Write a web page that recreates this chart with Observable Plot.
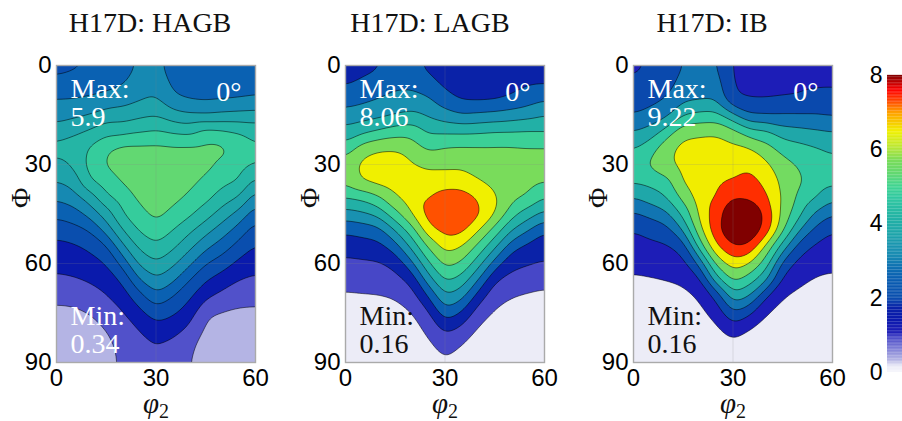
<!DOCTYPE html>
<html><head><meta charset="utf-8">
<script src="https://cdn.jsdelivr.net/npm/d3@7"></script>
<script src="https://cdn.jsdelivr.net/npm/@observablehq/plot@0.6"></script>
<style>
html,body{margin:0;padding:0;background:#fff;}
#chart{position:relative;width:902px;height:421px;overflow:hidden;background:#fff;}
#chart svg{position:absolute;top:0;}
</style></head><body><div id="chart"></div>
<script>
// grid sample positions (degrees)
const phi2 = [0,5,10,15,20,25,30,35,40,45,50,55,60];
const PHI = [0,5,10,15,20,25,30,35,40,45,50,55,60,65,70,75,80,85,90];

// ODF intensity, one array per phi2 column, Phi = 0..90
const hagbColumns = [
  [2.3,2.75,3.1,3.45,3.95,4.4,4.1,3.68,3.2,2.7,2.2,1.85,1.6,1.35,1.0,0.8,0.6,0.5,0.45],
  [2.45,2.8,3.1,3.55,4.15,4.45,4.3,3.9,3.4,2.85,2.35,1.9,1.65,1.4,1.05,0.8,0.62,0.52,0.48],
  [2.6,2.9,3.15,3.7,4.3,4.85,5.0,4.75,3.95,3.3,2.56,2.1,1.8,1.5,1.2,0.9,0.7,0.6,0.55],
  [2.8,2.95,3.25,3.95,4.6,5.3,5.4,5.1,4.7,3.95,3.3,2.45,2.01,1.7,1.4,1.15,0.9,0.75,0.7],
  [2.9,3.05,3.4,3.95,4.6,5.5,5.6,5.4,5.05,4.79,4.23,3.55,2.75,2.1,1.75,1.4,1.2,1.05,1.0],
  [3.2,3.35,3.6,4.1,4.75,5.45,5.8,5.7,5.45,5.15,4.85,4.35,3.8,3.12,2.35,1.85,1.45,1.3,1.25],
  [3.25,3.45,3.75,4.2,4.85,5.45,5.9,5.9,5.75,5.5,5.15,4.7,4.2,3.62,3.0,2.3,1.8,1.42,1.5],
  [2.95,3.0,3.2,3.9,4.7,5.4,5.8,5.75,5.5,5.2,4.79,4.35,3.8,3.25,2.56,2.1,1.65,1.3,1.15],
  [2.85,2.9,3.05,3.75,4.6,5.45,5.65,5.5,5.25,4.9,4.35,3.8,3.25,2.56,2.1,1.75,1.35,1.0,0.92],
  [2.8,2.85,3.0,3.7,5.0,5.5,5.5,5.25,4.95,4.5,3.85,3.25,2.56,2.05,1.55,0.95,0.8,0.7,0.65],
  [2.8,2.8,3.05,3.8,4.9,5.5,5.25,4.95,4.55,3.95,3.4,2.8,2.3,1.7,1.3,0.85,0.7,0.6,0.55],
  [2.8,2.85,3.1,3.85,4.8,5.1,5.0,4.79,4.23,3.5,2.85,2.35,1.85,1.45,1.1,0.8,0.65,0.55,0.5],
  [2.9,2.95,3.15,3.9,4.6,4.85,4.79,4.1,3.4,2.8,2.3,1.95,1.65,1.35,1.05,0.8,0.62,0.52,0.48]
];
const lagbColumns = [
  [2.2,2.4,2.95,3.6,4.4,5.2,6.0,5.85,4.9,3.75,2.65,2.05,1.55,1.2,0.85,0.55,0.38,0.3,0.25],
  [2.3,2.62,3.1,3.75,4.7,6.1,6.7,6.55,5.1,3.95,2.8,2.15,1.6,1.25,0.88,0.6,0.4,0.3,0.25],
  [2.45,2.8,3.32,3.9,5.0,6.4,6.9,6.8,5.6,4.35,3.0,2.25,1.65,1.3,0.9,0.62,0.42,0.32,0.27],
  [2.85,3.1,3.55,4.11,5.3,6.4,7.0,7.0,6.4,5.45,4.11,2.9,1.95,1.5,1.0,0.68,0.45,0.33,0.28],
  [2.75,3.1,3.6,4.3,5.4,6.1,6.55,7.0,7.0,6.45,5.3,4.3,3.1,1.95,1.4,0.92,0.6,0.4,0.32],
  [2.35,2.8,3.4,4.0,4.75,5.55,6.3,6.8,7.25,7.6,7.0,5.8,4.8,3.75,2.53,1.6,1.15,0.8,0.55],
  [2.05,2.3,2.85,3.6,4.75,5.75,6.25,6.95,7.6,8.06,7.55,6.8,5.95,5.05,4.05,3.05,1.95,1.2,0.85],
  [1.95,2.1,2.4,3.32,4.75,5.8,6.3,6.95,7.6,7.95,7.5,6.48,5.6,4.6,3.6,2.45,1.55,0.9,0.65],
  [1.95,2.05,2.35,3.45,4.8,5.8,6.15,6.5,7.25,7.45,6.55,5.45,4.45,3.32,2.15,1.35,0.85,0.55,0.45],
  [2.0,2.1,2.4,3.55,4.9,5.8,6.05,6.3,6.6,6.55,5.35,4.25,2.95,1.78,1.25,0.85,0.6,0.45,0.4],
  [2.1,2.25,2.6,3.7,4.9,5.8,6.05,6.2,5.95,5.2,4.11,2.8,1.95,1.5,0.95,0.7,0.5,0.4,0.35],
  [2.15,2.4,2.9,3.85,4.95,5.75,5.95,6.0,5.6,4.5,3.32,2.3,1.8,1.3,0.85,0.6,0.45,0.38,0.33],
  [2.2,2.4,3.2,4.11,4.9,5.75,5.95,5.8,4.9,3.85,2.53,2.1,1.65,1.15,0.8,0.58,0.43,0.35,0.3]
];
const ibColumns = [
  [1.8,2.05,2.45,2.88,3.78,4.6,5.25,4.85,3.78,2.72,1.97,1.62,1.28,0.95,0.7,0.52,0.4,0.32,0.28],
  [2.05,2.35,2.65,3.1,4.15,5.2,5.7,5.0,4.2,3.1,2.25,1.75,1.35,1.0,0.75,0.55,0.42,0.33,0.29],
  [2.3,2.55,2.88,3.55,5.1,6.2,6.3,5.3,4.69,3.55,2.5,1.85,1.45,1.07,0.8,0.58,0.44,0.35,0.3],
  [2.95,3.15,3.55,4.69,6.2,6.8,6.85,6.6,5.9,4.95,3.78,2.3,1.7,1.2,0.85,0.62,0.47,0.37,0.32],
  [3.0,3.25,3.65,4.95,6.3,6.9,7.15,7.2,7.0,6.7,6.2,5.1,3.1,1.75,1.15,0.85,0.6,0.45,0.38],
  [3.0,3.3,3.7,5.0,6.4,6.85,7.05,7.2,7.4,7.9,8.1,7.3,5.9,4.35,2.2,1.4,0.9,0.6,0.48],
  [1.85,1.9,2.05,3.95,5.9,6.7,7.0,7.45,8.3,9.2,9.15,8.3,7.0,5.85,4.4,2.8,1.55,0.8,0.55],
  [1.7,1.75,1.92,2.9,5.0,6.6,7.2,7.8,8.2,9.1,9.05,8.2,6.5,5.1,3.78,2.15,1.0,0.65,0.5],
  [1.75,1.8,1.9,2.88,4.9,5.95,6.7,7.1,7.6,8.2,8.0,6.2,5.2,3.95,1.97,1.07,0.75,0.55,0.45],
  [1.8,1.85,1.95,2.95,4.2,5.25,5.95,6.3,6.4,6.2,5.7,4.25,2.55,1.75,1.07,0.8,0.6,0.48,0.4],
  [1.85,1.9,1.98,2.95,4.05,5.0,5.5,5.75,5.4,4.9,3.78,2.4,1.7,1.2,0.9,0.7,0.55,0.45,0.38],
  [1.8,1.88,2.1,2.95,3.9,4.75,5.25,5.2,4.75,3.6,2.55,1.8,1.3,1.0,0.8,0.62,0.5,0.42,0.36],
  [1.75,1.85,2.2,2.8,3.78,4.5,4.95,4.95,4.0,2.88,1.97,1.6,1.2,0.95,0.75,0.58,0.47,0.4,0.35]
];

const panelTitles = ["H17D: HAGB", "H17D: LAGB", "H17D: IB"];
const panelMin = [0.34, 0.16, 0.16];
const panelMax = [5.9, 8.06, 9.22];
const panelMinLabels = ["0.34", "0.16", "0.16"];
const panelMaxLabels = ["5.9", "8.06", "9.22"];
const sectionLabel = "0°";
const contourCount = 10;
const ticksPhi2 = [0, 30, 60];
const ticksPHI = [0, 30, 60, 90];
const colorbarTicks = [0, 2, 4, 6, 8];

const colorStopValues = [0,0.16,0.34,0.95,1.07,1.45,1.74,2.0,2.55,2.9,3.1,3.4,3.7,4.1,4.7,5.0,5.34,5.7,6.1,6.48,7.0,7.3,7.6,8.0];
const colorStopColors = ["#f6f6fc","#ececf7","#b4b4e4","#4747c7","#1c1cb6","#0a1aac","#0a22a8","#0a4eae","#0a60b2","#1276b2","#1688b2","#1a94b0","#1ea4aa","#22b0a6","#30c8a0","#40d492","#62d872","#7adc5a","#c0e830","#f0f000","#ffa000","#ff4800","#ff0000","#800000"];

const colorScale = {type: "linear", domain: colorStopValues, range: colorStopColors, clamp: true, interpolate: "rgb"};
const serif = "Liberation Serif, Times New Roman, serif";
const sans = "Liberation Sans, Arial, sans-serif";
const panels = [hagbColumns, lagbColumns, ibColumns];
const panelLeft = [0, 289, 577];
const titleDx = [-6, -15, -21];

const chart = document.getElementById("chart");
const ns = "http://www.w3.org/2000/svg";

panels.forEach((cols, p) => {
  const points = [];
  phi2.forEach((a, i) => PHI.forEach((b, j) => points.push({phi2: a, PHI: b, v: cols[i][j]})));
  const step = (panelMax[p] - panelMin[p]) / contourCount;
  const thresholds = d3.range(contourCount).map(k => panelMin[p] + k * step);
  const svg = Plot.plot({
    width: 289, height: 421,
    marginLeft: 56, marginRight: 34, marginTop: 65, marginBottom: 59,
    x: {domain: [0, 60], axis: null},
    y: {domain: [0, 90], reverse: true, axis: null},
    color: colorScale,
    style: {fontFamily: sans, fontSize: "24px", background: "transparent", overflow: "visible"},
    marks: [
      Plot.contour(points, {
        x: "phi2", y: "PHI", value: "v",
        interpolate: "barycentric", pixelSize: 1, blur: 5,
        thresholds, fill: "value", stroke: "#000", strokeWidth: 0.6, strokeOpacity: 0.85, clip: true
      }),
      Plot.gridX([30], {stroke: "#888", strokeOpacity: 0.2}),
      Plot.gridY([30, 60], {stroke: "#888", strokeOpacity: 0.2}),
      Plot.frame({stroke: "#aaa", strokeWidth: 1.4}),
      Plot.axisX(ticksPhi2, {anchor: "bottom", tickSize: 0, tickPadding: 6, fontSize: 24, label: null}),
      Plot.axisY(ticksPHI, {anchor: "left", tickSize: 0, tickPadding: 5, fontSize: 24, label: null}),
      Plot.text([panelTitles[p]], {frameAnchor: "top", dx: titleDx[p], dy: -53, fontFamily: serif, fontSize: 28, fill: "#111"}),
      Plot.text([`Max:\n${panelMaxLabels[p]}`], {frameAnchor: "top-left", textAnchor: "start", lineAnchor: "top", dx: 14, dy: 13, lineHeight: 1.0, fontFamily: serif, fontSize: 28, fill: "white"}),
      Plot.text([sectionLabel], {frameAnchor: "top-right", textAnchor: "end", lineAnchor: "top", dx: -14, dy: 16, fontFamily: serif, fontSize: 28, fill: "white"}),
      Plot.text([`Min:\n${panelMinLabels[p]}`], {frameAnchor: "bottom-left", textAnchor: "start", lineAnchor: "bottom", dx: 14, dy: -10, lineHeight: 1.0, fontFamily: serif, fontSize: 28, fill: p === 0 ? "white" : "#111"}),
      Plot.text(["Φ"], {frameAnchor: "left", dx: -35, dy: -6, rotate: -90, fontFamily: serif, fontSize: 28, fill: "#111"}),
      Plot.text(["φ2"], {frameAnchor: "bottom", lineAnchor: "bottom", dy: 50, fontFamily: serif, fontSize: 29, fill: "#111", className: "xlabel"})
    ]
  });
  svg.style.left = panelLeft[p] + "px";
  svg.querySelectorAll(".xlabel text").forEach(t => {
    t.textContent = "";
    const a = document.createElementNS(ns, "tspan");
    a.textContent = "φ"; a.setAttribute("font-style", "italic");
    const b = document.createElementNS(ns, "tspan");
    b.textContent = "2"; b.setAttribute("dy", "0.25em"); b.setAttribute("font-size", "20");
    t.append(a, b);
  });
  chart.appendChild(svg);
});

// colorbar
const barStep = 0.04;
const barValues = d3.range(0, 8, barStep);
const bar = Plot.plot({
  width: 62, height: 421,
  marginLeft: 45, marginRight: 0, marginTop: 75, marginBottom: 49,
  x: {axis: null},
  y: {domain: [0, 8], axis: null},
  color: colorScale,
  style: {fontFamily: sans, fontSize: "23px", background: "transparent", overflow: "visible"},
  marks: [
    Plot.rect(barValues, {y1: d => d, y2: d => d + barStep * 1.1, fill: d => d + barStep / 2}),
    Plot.axisY(colorbarTicks, {anchor: "left", tickSize: 0, tickPadding: 5, fontSize: 23, label: null})
  ]
});
bar.style.left = "842px";
chart.appendChild(bar);
</script>
</body></html>
